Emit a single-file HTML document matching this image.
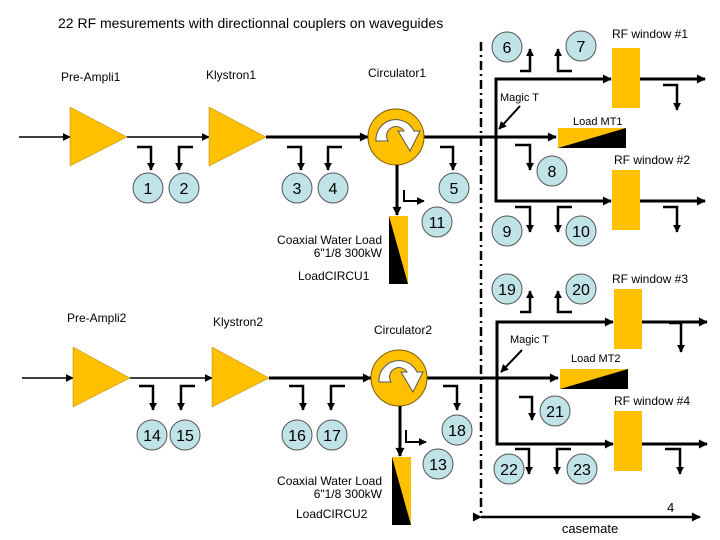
<!DOCTYPE html>
<html><head><meta charset="utf-8"><style>
html,body{margin:0;padding:0;background:#fff;}
svg{display:block;}
text{font-family:"Liberation Sans",sans-serif;fill:#000;}
</style></head><body>
<svg width="720" height="540" viewBox="0 0 720 540" xmlns="http://www.w3.org/2000/svg">
<defs>
<marker id="a" viewBox="0 0 10 10" refX="9" refY="5" markerWidth="11" markerHeight="9" markerUnits="userSpaceOnUse" orient="auto"><path d="M0,0L10,5L0,10z" fill="#000"/></marker>
<marker id="as" viewBox="0 0 10 10" refX="9" refY="5" markerWidth="8" markerHeight="8" markerUnits="userSpaceOnUse" orient="auto"><path d="M0,0L10,5L0,10z" fill="#000"/></marker>
<g id="circ">
<circle r="28" fill="#FFC000" stroke="#7a5a00" stroke-width="1"/>
<path d="M-20,4 A20,20 0 0 1 18,-6 L24,-6 L14,14 L2,-6 L8,-6 A8,8 0 0 0 -8,4 Z" fill="#fff" stroke="#555" stroke-width="1"/>
</g>
<g id="cw">
<rect x="0" y="0" width="19" height="68" fill="#FFC000"/>
<path d="M0,0 L19,68 L0,68Z" fill="#000"/>
</g>
<g id="ml">
<rect x="0" y="0" width="68" height="20" fill="#FFC000"/>
<path d="M68,0 L68,20 L0,20Z" fill="#000"/>
</g>
</defs>
<g fill="#000">
<text x="58" y="28" font-size="14">22 RF mesurements with directionnal couplers on waveguides</text>
<text x="61" y="81" font-size="12">Pre-Ampli1</text>
<text x="206" y="79" font-size="12">Klystron1</text>
<text x="368" y="77" font-size="12">Circulator1</text>
<text x="612" y="38" font-size="12">RF window #1</text>
<text x="614" y="164" font-size="12">RF window #2</text>
<text x="612" y="283" font-size="12">RF window #3</text>
<text x="614" y="405" font-size="12">RF window #4</text>
<text x="500" y="101" font-size="11">Magic T</text>
<text x="573" y="125" font-size="11">Load MT1</text>
<text x="510" y="343" font-size="11">Magic T</text>
<text x="571" y="362" font-size="11">Load MT2</text>
<text x="382" y="244" font-size="12" text-anchor="end">Coaxial Water Load</text>
<text x="382" y="257" font-size="12" text-anchor="end">6"1/8  300kW</text>
<text x="298" y="280" font-size="12">LoadCIRCU1</text>
<text x="67" y="322" font-size="12">Pre-Ampli2</text>
<text x="213" y="326" font-size="12">Klystron2</text>
<text x="374" y="334" font-size="12">Circulator2</text>
<text x="382" y="485" font-size="12" text-anchor="end">Coaxial Water Load</text>
<text x="382" y="498" font-size="12" text-anchor="end">6"1/8  300kW</text>
<text x="296" y="518" font-size="12">LoadCIRCU2</text>
<text x="667" y="512" font-size="13">4</text>
<text x="590" y="533" font-size="13" text-anchor="middle">casemate</text>
</g>
<line x1="481" y1="42" x2="481" y2="518" stroke="#000" stroke-width="2.5" stroke-dasharray="9,4,2,4"/>
<line x1="481" y1="517" x2="700" y2="517" stroke="#000" stroke-width="2.5" marker-end="url(#a)" marker-start="url(#a)"/>

<line x1="19" y1="137" x2="70" y2="137" stroke="#000" stroke-width="1.5" marker-end="url(#as)"/>
<line x1="127" y1="137" x2="209" y2="137" stroke="#000" stroke-width="1.5" marker-end="url(#as)"/>
<line x1="266" y1="137" x2="368" y2="137" stroke="#000" stroke-width="3" marker-end="url(#a)"/>
<polygon points="70,107 127,137 70,166" fill="#FFC000" stroke="#b08000" stroke-width="0.5"/>
<polygon points="209,107 266,137 209,166" fill="#FFC000" stroke="#b08000" stroke-width="0.5"/>
<line x1="424" y1="137" x2="556" y2="137" stroke="#000" stroke-width="3" marker-end="url(#a)"/>
<use href="#circ" x="396" y="137"/>
<line x1="397" y1="165" x2="397" y2="215" stroke="#000" stroke-width="3" marker-end="url(#a)"/>
<use href="#cw" x="389" y="216"/>
<polyline points="404,190 404,201 424,201" fill="none" stroke="#000" stroke-width="2" marker-end="url(#as)"/>
<polyline points="610,79 496,79 496,201 610,201" fill="none" stroke="#000" stroke-width="3"/>
<line x1="590" y1="79" x2="611" y2="79" stroke="#000" stroke-width="3" marker-end="url(#a)"/>
<line x1="590" y1="201" x2="611" y2="201" stroke="#000" stroke-width="3" marker-end="url(#a)"/>
<line x1="640" y1="79" x2="705" y2="79" stroke="#000" stroke-width="3" marker-end="url(#a)"/>
<line x1="640" y1="201" x2="705" y2="201" stroke="#000" stroke-width="3" marker-end="url(#a)"/>
<rect x="612" y="48" width="28" height="60" fill="#FFC000"/>
<rect x="612" y="170" width="28" height="60" fill="#FFC000"/>
<use href="#ml" x="558" y="128"/>
<line x1="520" y1="106" x2="499" y2="129" stroke="#000" stroke-width="2" marker-end="url(#as)"/>

<line x1="22" y1="378" x2="73" y2="378" stroke="#000" stroke-width="1.5" marker-end="url(#as)"/>
<line x1="130" y1="378" x2="212" y2="378" stroke="#000" stroke-width="1.5" marker-end="url(#as)"/>
<line x1="269" y1="378" x2="371" y2="378" stroke="#000" stroke-width="3" marker-end="url(#a)"/>
<polygon points="73,347 130,378 73,407" fill="#FFC000" stroke="#b08000" stroke-width="0.5"/>
<polygon points="212,347 269,378 212,407" fill="#FFC000" stroke="#b08000" stroke-width="0.5"/>
<line x1="427" y1="378" x2="558" y2="378" stroke="#000" stroke-width="3" marker-end="url(#a)"/>
<use href="#circ" x="399" y="378"/>
<line x1="400" y1="406" x2="400" y2="456" stroke="#000" stroke-width="3" marker-end="url(#a)"/>
<use href="#cw" x="392" y="457"/>
<polyline points="406,430 406,442 426,442" fill="none" stroke="#000" stroke-width="2" marker-end="url(#as)"/>
<polyline points="612,322 497,322 497,444 612,444" fill="none" stroke="#000" stroke-width="3"/>
<line x1="592" y1="322" x2="613" y2="322" stroke="#000" stroke-width="3" marker-end="url(#a)"/>
<line x1="592" y1="444" x2="613" y2="444" stroke="#000" stroke-width="3" marker-end="url(#a)"/>
<line x1="642" y1="322" x2="707" y2="322" stroke="#000" stroke-width="3" marker-end="url(#a)"/>
<line x1="642" y1="444" x2="707" y2="444" stroke="#000" stroke-width="3" marker-end="url(#a)"/>
<rect x="614" y="289" width="28" height="60" fill="#FFC000"/>
<rect x="614" y="411" width="28" height="60" fill="#FFC000"/>
<use href="#ml" x="560" y="369"/>
<line x1="522" y1="350" x2="501" y2="372" stroke="#000" stroke-width="2" marker-end="url(#as)"/>

<g fill="none" stroke="#000" stroke-width="2.5">
<polyline points="137,147 151,147 151,170" marker-end="url(#as)"/>
<polyline points="193,147 179,147 179,170" marker-end="url(#as)"/>
<polyline points="287,147 301,147 301,170" marker-end="url(#as)"/>
<polyline points="342,147 328,147 328,170" marker-end="url(#as)"/>
<polyline points="440,147 453,147 453,170" marker-end="url(#as)"/>
<polyline points="520,71 530,71 530,49" marker-end="url(#as)"/>
<polyline points="572,71 558,71 558,49" marker-end="url(#as)"/>
<polyline points="515,145 530,145 530,170" marker-end="url(#as)"/>
<polyline points="515,207 530,207 530,232" marker-end="url(#as)"/>
<polyline points="572,207 558,207 558,232" marker-end="url(#as)"/>
<polyline points="663,85 677,85 677,110" marker-end="url(#as)"/>
<polyline points="663,207 677,207 677,232" marker-end="url(#as)"/>
<polyline points="520,312 530,312 530,291" marker-end="url(#as)"/>
<polyline points="572,312 558,312 558,291" marker-end="url(#as)"/>
<polyline points="669,323 681,323 681,352" marker-end="url(#as)"/>
<polyline points="519,397 532,397 532,420" marker-end="url(#as)"/>
<polyline points="515,449 529,449 529,474" marker-end="url(#as)"/>
<polyline points="571,449 557,449 557,474" marker-end="url(#as)"/>
<polyline points="665,449 680,449 680,474" marker-end="url(#as)"/>
<polyline points="139,386 153,386 153,410" marker-end="url(#as)"/>
<polyline points="195,386 181,386 181,410" marker-end="url(#as)"/>
<polyline points="289,386 303,386 303,410" marker-end="url(#as)"/>
<polyline points="345,386 331,386 331,410" marker-end="url(#as)"/>
<polyline points="443,386 457,386 457,410" marker-end="url(#as)"/>
</g>

<g fill="#BFE3E6" stroke="#555" stroke-width="1">
<circle cx="148" cy="188" r="15"/><circle cx="184" cy="188" r="15"/>
<circle cx="297" cy="188" r="15"/><circle cx="333" cy="188" r="15"/>
<circle cx="454" cy="188" r="15"/><circle cx="437" cy="222" r="15"/>
<circle cx="507" cy="47" r="15"/><circle cx="581" cy="46" r="15"/>
<circle cx="552" cy="171" r="15"/>
<circle cx="507" cy="231" r="15"/><circle cx="581" cy="231" r="15"/>
<circle cx="507" cy="289" r="15"/><circle cx="581" cy="289" r="15"/>
<circle cx="555" cy="411" r="15"/>
<circle cx="509" cy="469" r="15"/><circle cx="582" cy="469" r="15"/>
<circle cx="152" cy="435" r="15"/><circle cx="185" cy="435" r="15"/>
<circle cx="297" cy="435" r="15"/><circle cx="332" cy="435" r="15"/>
<circle cx="457" cy="430" r="15"/><circle cx="438" cy="464" r="15"/>
</g>
<g font-size="16" text-anchor="middle">
<text x="148" y="194">1</text><text x="184" y="194">2</text>
<text x="297" y="194">3</text><text x="333" y="194">4</text>
<text x="454" y="194">5</text><text x="437" y="228">11</text>
<text x="507" y="53">6</text><text x="581" y="52">7</text>
<text x="552" y="177">8</text>
<text x="507" y="237">9</text><text x="581" y="237">10</text>
<text x="507" y="295">19</text><text x="581" y="295">20</text>
<text x="555" y="417">21</text>
<text x="509" y="475">22</text><text x="582" y="475">23</text>
<text x="152" y="441">14</text><text x="185" y="441">15</text>
<text x="297" y="441">16</text><text x="332" y="441">17</text>
<text x="457" y="436">18</text><text x="438" y="470">13</text>
</g>
</svg>
</body></html>
